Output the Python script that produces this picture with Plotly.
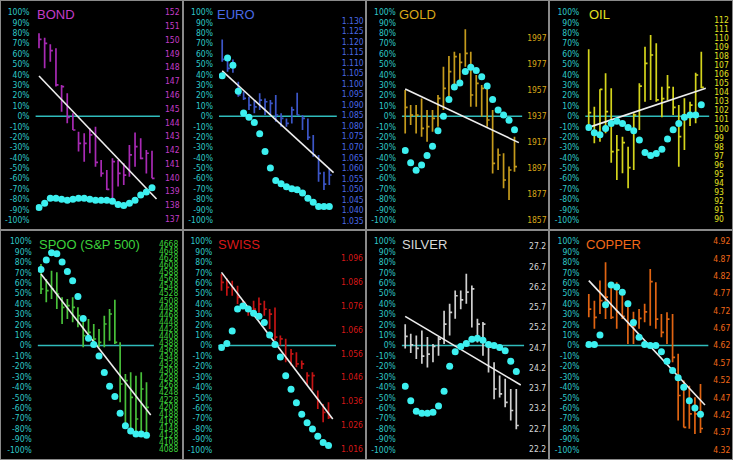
import plotly.graph_objects as go

# ---- data (21 daily bars per market) ----
bond_high = [150.48, 150.16, 149.68, 149.39, 146.73, 146.12, 144.67, 143.34, 143.22, 143.58, 143.70,
             141.28, 140.56, 141.40, 141.28, 141.04, 142.37, 143.27, 142.86, 142.01, 141.96]
bond_low = [149.39, 147.94, 148.42, 146.61, 144.79, 143.94, 143.46, 141.89, 141.16, 141.77, 140.80,
            140.07, 139.10, 138.38, 139.35, 139.47, 140.07, 140.80, 141.33, 140.31, 139.95]
bond_close = [150.04, 149.75, 149.22, 146.73, 146.61, 144.38, 143.46, 142.49, 142.49, 143.10, 141.11,
              140.31, 139.15, 141.16, 140.31, 140.19, 141.65, 142.25, 141.40, 141.77, 139.95]
bond_osc = [-88, -84, -79, -79, -80, -81, -80, -79, -79, -80, -81, -81, -81, -82, -85, -86, -84, -81, -76, -73, -69]
bond_trend = [147.38, 138.45]
bond_ticks = list(range(137, 153))

euro_high = [1.1211, 1.1121, 1.1116, 1.1010, 1.0963, 1.0939, 1.0923, 1.0955, 1.0931, 1.0923, 1.0947,
             1.0860, 1.0836, 1.0891, 1.0958, 1.0852, 1.0836, 1.0757, 1.0662, 1.0583, 1.0599]
euro_low = [1.1105, 1.1058, 1.1053, 1.0939, 1.0923, 1.0876, 1.0860, 1.0876, 1.0852, 1.0852, 1.0820,
            1.0796, 1.0796, 1.0812, 1.0852, 1.0781, 1.0733, 1.0654, 1.0535, 1.0496, 1.0519]
euro_close = [1.1116, 1.1074, 1.1097, 1.0947, 1.0931, 1.0899, 1.0891, 1.0923, 1.0915, 1.0907, 1.0852,
              1.0836, 1.0812, 1.0876, 1.0852, 1.0836, 1.0746, 1.0662, 1.0575, 1.0524, 1.0567]
euro_osc = [39, 56, 49, 24, 3, -1, -6, -17, -34, -50, -62, -65, -68, -70, -71, -74, -79, -83, -87, -87, -87]
euro_trend = [1.1062, 1.0578]
euro_ticks = [1.035, 1.040, 1.045, 1.050, 1.055, 1.060, 1.065, 1.070, 1.075, 1.080,
              1.085, 1.090, 1.095, 1.100, 1.105, 1.110, 1.115, 1.120, 1.125, 1.130]

gold_high = [1956.8, 1945.3, 1945.3, 1950.4, 1941.5, 1941.5, 1953.0, 1974.7, 1982.9, 1986.2, 1985.0,
             2003.4, 1986.2, 1968.3, 1960.7, 1959.9, 1941.5, 1912.0, 1908.2, 1898.0, 1921.0]
gold_low = [1923.5, 1929.9, 1923.5, 1921.0, 1917.1, 1924.8, 1928.7, 1941.5, 1951.7, 1959.4, 1963.2,
            1974.7, 1944.0, 1944.0, 1936.3, 1928.7, 1892.8, 1895.4, 1881.3, 1872.4, 1894.1]
gold_close = [1943.5, 1937.6, 1937.6, 1927.4, 1928.7, 1935.1, 1950.4, 1958.1, 1970.9, 1982.4, 1978.1,
              1985.0, 1953.0, 1961.9, 1958.1, 1933.8, 1900.5, 1906.9, 1887.7, 1895.4, 1898.0]
gold_osc = [-33, -45, -52, -47, -38, -29, -14, 0, 16, 28, 32, 43, 47, 44, 38, 29, 16, 6, 1, -4, -13]
gold_trend = [1957.6, 1916.4]
gold_ticks = [1857, 1877, 1897, 1917, 1937, 1957, 1977, 1997]

oil_high = [108.76, 102.42, 104.34, 106.10, 104.45, 99.29, 99.10, 98.00, 101.68, 105.00, 109.05,
            110.34, 109.42, 104.63, 105.92, 104.63, 102.60, 103.34, 102.97, 106.18, 108.50]
oil_low = [100.02, 98.37, 98.55, 99.47, 96.23, 94.31, 95.05, 93.39, 95.42, 99.84, 102.97,
           103.16, 102.97, 101.24, 103.16, 101.50, 95.79, 97.63, 100.28, 100.58, 104.45]
oil_close = [101.76, 99.47, 104.34, 101.87, 97.44, 97.63, 98.44, 95.68, 101.50, 104.70, 107.21,
             108.13, 103.16, 103.30, 104.56, 102.35, 99.10, 101.39, 102.60, 105.92, 104.56]
oil_osc = [-11, -16, -18, -12, -7, -5, -7, -11, -14, -23, -35, -38, -36, -32, -22, -13, -7, -1, 1, 1, 11]
oil_trend = [100.13, 104.45]
oil_ticks = list(range(90, 113))

spoo_high = [4611.4, 4569.0, 4592.6, 4587.8, 4517.1, 4512.4, 4517.1, 4488.8, 4460.5, 4455.8, 4441.7,
             4427.5, 4465.2, 4484.1, 4510.5, 4389.8, 4300.2, 4304.9, 4295.5, 4304.9, 4276.6]
spoo_low = [4526.5, 4503.0, 4512.4, 4484.1, 4441.7, 4455.8, 4446.4, 4432.2, 4375.6, 4394.5, 4385.1,
            4375.6, 4375.6, 4394.5, 4385.1, 4220.0, 4154.0, 4144.6, 4135.2, 4135.2, 4135.2]
spoo_close = [4540.7, 4536.0, 4540.7, 4526.5, 4488.8, 4493.5, 4488.8, 4465.2, 4408.7, 4418.1, 4399.2,
              4389.8, 4441.7, 4470.0, 4389.8, 4271.9, 4281.3, 4234.2, 4172.9, 4257.8, 4205.9]
spoo_osc = [73, 82, 89, 88, 80, 71, 62, 47, 26, 7, 1, -10, -26, -39, -49, -65, -77, -82, -85, -85, -86]
spoo_trend = [4583.1, 4184.2]
spoo_ticks = list(range(4088, 4669, 20))

swiss_high = [1.0894, 1.0876, 1.0866, 1.0845, 1.0782, 1.0761, 1.0782, 1.0796, 1.0782, 1.0747, 1.0754,
              1.0636, 1.0622, 1.0580, 1.0566, 1.0531, 1.0482, 1.0482, 1.0405, 1.0349, 1.0356]
swiss_low = [1.0824, 1.0803, 1.0803, 1.0768, 1.0747, 1.0719, 1.0726, 1.0733, 1.0719, 1.0663, 1.0615,
             1.0594, 1.0524, 1.0510, 1.0503, 1.0496, 1.0426, 1.0405, 1.0328, 1.0272, 1.0286]
swiss_close = [1.0859, 1.0838, 1.0834, 1.0796, 1.0775, 1.0747, 1.0747, 1.0768, 1.0747, 1.0726, 1.0629,
               1.0622, 1.0538, 1.0559, 1.0517, 1.0517, 1.0468, 1.0468, 1.0363, 1.0314, 1.0293]
swiss_osc = [-2, 2, 14, 35, 38, 35, 31, 28, 22, 10, 1, -11, -29, -42, -55, -66, -74, -80, -87, -93, -96]
swiss_trend = [1.0901, 1.0286]
swiss_ticks = [1.016, 1.026, 1.036, 1.046, 1.056, 1.066, 1.076, 1.086, 1.096]

silver_high = [25.28, 25.04, 25.00, 25.12, 24.96, 24.79, 24.96, 25.61, 25.78, 26.11, 26.11,
               26.52, 26.23, 25.41, 25.33, 24.75, 24.34, 24.01, 23.93, 23.68, 23.68]
silver_low = [24.68, 24.57, 24.42, 24.30, 24.21, 24.34, 24.50, 24.79, 25.00, 25.41, 25.65,
              25.78, 25.20, 24.83, 24.50, 24.09, 23.43, 23.47, 23.23, 22.90, 22.69]
silver_close = [24.98, 24.77, 24.68, 24.49, 24.54, 24.73, 24.91, 25.28, 25.57, 25.98, 25.88,
                26.07, 26.15, 25.28, 25.28, 24.71, 23.68, 23.56, 23.35, 23.15, 22.78]
silver_osc = [-39, -53, -63, -65, -65, -64, -58, -44, -20, -6, -1, 2, 6, 7, 5, 1, 0, -2, -5, -15, -25]
silver_trend = [25.47, 23.78]
silver_ticks = [22.2, 22.7, 23.2, 23.7, 24.2, 24.7, 25.2, 25.7, 26.2, 26.7, 27.2]

copper_high = [4.768, 4.749, 4.807, 4.860, 4.802, 4.802, 4.778, 4.749, 4.717, 4.725, 4.740,
               4.840, 4.802, 4.711, 4.716, 4.711, 4.596, 4.519, 4.504, 4.471, 4.509]
copper_low = [4.701, 4.668, 4.711, 4.696, 4.696, 4.668, 4.696, 4.624, 4.624, 4.668, 4.687,
              4.677, 4.668, 4.644, 4.624, 4.572, 4.404, 4.384, 4.380, 4.365, 4.368]
copper_close = [4.725, 4.701, 4.749, 4.759, 4.701, 4.716, 4.704, 4.679, 4.677, 4.698, 4.717,
                4.804, 4.696, 4.658, 4.696, 4.586, 4.476, 4.384, 4.423, 4.423, 4.381]
copper_osc = [1, 1, 10, 39, 58, 56, 51, 40, 22, 8, 1, 0, 0, -6, -15, -24, -31, -40, -53, -60, -66]
copper_trend = [4.8067, 4.4486]
copper_ticks = [4.32, 4.37, 4.42, 4.47, 4.52, 4.57, 4.62, 4.67, 4.72, 4.77, 4.82, 4.87, 4.92]

pct_ticks = list(range(-100, 101, 10))
trend_span = [0, 20.8]

W, H = 733, 460
TICK_FONT = "Liberation Sans Narrow, Arial Narrow, DejaVu Sans Condensed, Liberation Sans, Arial"
TITLE_FONT = "Liberation Sans, Arial"

# row geometry in pixels: (top of domain, bottom of domain) for a [-106, 106] % range
rows = [(6.1, 226.2), (235.0, 456.0)]

panels = [
    dict(name="BOND", high=bond_high, low=bond_low, close=bond_close, osc=bond_osc, trend=bond_trend,
         ticks=bond_ticks, fmt="d", color="#c43cc8", bar="#a82ab4", row=0, first=39, last=152,
         hi=(152, 12.3), lo=(137, 219), title_x=34.5),
    dict(name="EURO", high=euro_high, low=euro_low, close=euro_close, osc=euro_osc, trend=euro_trend,
         ticks=euro_ticks, fmt=".3f", color="#4a6ae6", bar="#3c56c8", row=0, first=222.2, last=329.3,
         hi=(1.130, 20.7), lo=(1.035, 220.7), title_x=215),
    dict(name="GOLD", high=gold_high, low=gold_low, close=gold_close, osc=gold_osc, trend=gold_trend,
         ticks=gold_ticks, fmt="d", color="#d8a818", bar="#c49a1c", row=0, first=405.2, last=514.5,
         hi=(1997, 37.7), lo=(1857, 220), title_x=397),
    dict(name="OIL", high=oil_high, low=oil_low, close=oil_close, osc=oil_osc, trend=oil_trend,
         ticks=oil_ticks, fmt="d", color="#e0e020", bar="#d4d41c", row=0, first=588.7, last=701.3,
         hi=(112, 20), lo=(90, 219), title_x=587),
    dict(name="SPOO (S&P 500)", high=spoo_high, low=spoo_low, close=spoo_close, osc=spoo_osc,
         trend=spoo_trend, ticks=spoo_ticks, fmt="d", color="#3cd23c", bar="#48c03a", row=1,
         first=41, last=146.5, hi=(4668, 244), lo=(4088, 449), title_x=37.3),
    dict(name="SWISS", high=swiss_high, low=swiss_low, close=swiss_close, osc=swiss_osc,
         trend=swiss_trend, ticks=swiss_ticks, fmt=".3f", color="#d81818", bar="#c41414", row=1,
         first=221.5, last=328.5, hi=(1.096, 258.3), lo=(1.016, 449), title_x=216),
    dict(name="SILVER", high=silver_high, low=silver_low, close=silver_close, osc=silver_osc,
         trend=silver_trend, ticks=silver_ticks, fmt=".1f", color="#d8d8d8", bar="#d0d0d0", row=1,
         first=405.2, last=516.3, hi=(27.2, 246.3), lo=(22.2, 449), title_x=400),
    dict(name="COPPER", high=copper_high, low=copper_low, close=copper_close, osc=copper_osc,
         trend=copper_trend, ticks=copper_ticks, fmt=".2f", color="#f06818", bar="#e06412", row=1,
         first=588.8, last=700.5, hi=(4.92, 241.3), lo=(4.32, 449.7), title_x=584),
]


def ohlc_path(high, low, close, tick=0.45):
    xs, ys = [], []
    for i, (h, l, c) in enumerate(zip(high, low, close)):
        xs += [i, i, None, i, i + tick, None]
        ys += [l, h, None, c, c, None]
    return xs, ys


fig = go.Figure()
layout = {}
shapes = []
annotations = []

for k, p in enumerate(panels):
    n = k + 1
    xname = "x" if n == 1 else f"x{n}"
    yp = "y" if n == 1 else f"y{2 * k + 1}"      # price axis (base, right side)
    yo = f"y{2 * k + 2}"                          # oscillator % axis (overlay, left side)
    xkey = "xaxis" if n == 1 else f"xaxis{n}"
    ypkey = "yaxis" if n == 1 else f"yaxis{2 * k + 1}"
    yokey = f"yaxis{2 * k + 2}"

    T, B = rows[p["row"]]
    step = (p["last"] - p["first"]) / 20
    left_px = p["first"] - 0.6 * step
    right_px = p["last"] + 1.4 * step
    layout[xkey] = dict(domain=[left_px / W, right_px / W], range=[-0.6, 21.4], visible=False,
                        fixedrange=True)

    (v_hi, px_hi), (v_lo, px_lo) = p["hi"], p["lo"]
    s = (v_hi - v_lo) / (px_lo - px_hi)
    r_hi = v_hi + s * (px_hi - T)
    r_lo = v_lo - s * (B - px_lo)
    ydom = [1 - B / H, 1 - T / H]

    layout[ypkey] = dict(domain=ydom, range=[r_lo, r_hi], anchor=xname, side="right",
                         tickmode="array", tickvals=p["ticks"], tickformat=p["fmt"],
                         showgrid=False, zeroline=False, showline=False, ticks="",
                         ticklabelstandoff=4, fixedrange=True,
                         tickfont=dict(family=TICK_FONT, size=8.5, color=p["color"]))
    layout[yokey] = dict(range=[-106, 106], overlaying=yp, anchor=xname, side="left",
                         tickmode="array", tickvals=pct_ticks,
                         ticktext=[f"{v}%" for v in pct_ticks],
                         showgrid=False, zeroline=False, showline=False, ticks="",
                         ticklabelstandoff=5, fixedrange=True,
                         tickfont=dict(family=TICK_FONT, size=8.5, color="#2ec8c8"))

    xs, ys = ohlc_path(p["high"], p["low"], p["close"])
    fig.add_trace(go.Scatter(x=xs, y=ys, xaxis=xname, yaxis=yp, mode="lines",
                             line=dict(color=p["bar"], width=1.7), hoverinfo="skip"))
    fig.add_trace(go.Scatter(x=trend_span, y=p["trend"], xaxis=xname, yaxis=yp, mode="lines",
                             line=dict(color="#eeeeee", width=1.6), hoverinfo="skip"))
    fig.add_trace(go.Scatter(x=list(range(len(p["osc"]))), y=p["osc"], xaxis=xname, yaxis=yo,
                             mode="markers", marker=dict(color="#3cf0f0", size=7),
                             hoverinfo="skip"))

    shapes.append(dict(type="line", xref=f"{xname} domain", x0=0, x1=1, yref=yo, y0=0, y1=0,
                       line=dict(color="#30bcbc", width=1.5), layer="below"))

    title_y = 14 if p["row"] == 0 else 244
    annotations.append(dict(text=p["name"], xref="paper", yref="paper", x=p["title_x"] / W,
                            y=1 - title_y / H, xanchor="left", yanchor="middle", showarrow=False,
                            font=dict(family=TITLE_FONT, size=13, color=p["color"])))

# panel frames
for xpx in [183, 366, 549]:
    shapes.append(dict(type="line", xref="paper", yref="paper", x0=xpx / W, x1=xpx / W, y0=0, y1=1,
                       line=dict(color="#8a8a8a", width=2)))
shapes.append(dict(type="line", xref="paper", yref="paper", x0=0, x1=1, y0=1 - 230 / H,
                   y1=1 - 230 / H, line=dict(color="#8a8a8a", width=2)))
shapes.append(dict(type="rect", xref="paper", yref="paper", x0=0, x1=1, y0=0, y1=1,
                   line=dict(color="#8a8a8a", width=2)))

fig.update_layout(**layout)
fig.update_layout(
    width=W, height=H,
    margin=dict(l=0, r=0, t=0, b=0),
    paper_bgcolor="black", plot_bgcolor="black",
    showlegend=False,
    shapes=shapes,
    annotations=annotations,
)

# the page body has a default 8px margin; drop it so the 733x460 figure fills the window
fig.write_html("out.html", config={"displayModeBar": False},
               post_script="document.body.style.margin='0';")
